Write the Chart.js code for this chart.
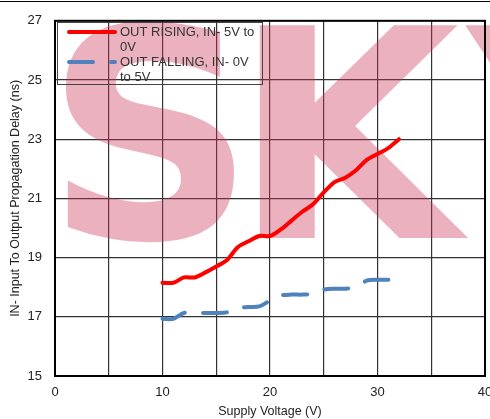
<!DOCTYPE html>
<html>
<head>
<meta charset="utf-8">
<script src="https://cdn.jsdelivr.net/npm/chart.js@4.4.0/dist/chart.umd.min.js"></script>
<style>
  html, body { margin: 0; padding: 0; background: #fff; overflow: hidden; }
  #wrap { width: 490px; height: 419px; position: relative; }
</style>
</head>
<body>
<div id="wrap"><canvas id="delayChart"></canvas></div>
<script>
// Supply voltage (V)
const voltages = [10, 11, 12, 13, 14, 15, 16, 17, 18, 19, 20, 21, 22, 23, 24, 25, 26, 27, 28, 29, 30, 31, 32];
// OUT RISING, IN- 5V to 0V (ns)
const risingDelay = [18.15, 18.15, 18.33, 18.33, 18.5, 18.7, 18.92, 19.35, 19.55, 19.73, 19.73, 19.95, 20.25, 20.55, 20.8, 21.2, 21.55, 21.7, 21.95, 22.3, 22.5, 22.7, 23.0];
// OUT FALLING, IN- 0V to 5V (ns)
const fallingDelay = [16.93, 16.93, 17.13, 17.13, 17.13, 17.13, 17.15, 17.3, 17.33, 17.35, 17.55, 17.72, 17.75, 17.75, 17.78, 17.92, 17.95, 17.95, 18.0, 18.22, 18.25, 18.25, 18.25];

const seriesLabels = [['OUT RISING, IN- 5V to', '0V'], ['OUT FALLING, IN- 0V', 'to 5V']];
const xTickLabels = [0, 10, 20, 30, 40];
const yTickLabels = [15, 17, 19, 21, 23, 25, 27];

const FONT = '"Liberation Sans", Arial, sans-serif';

const watermarkPlugin = {
    id: 'watermark',
    beforeDatasetsDraw(chart) {
        const ctx = chart.ctx;
        ctx.save();
        ctx.fillStyle = 'rgba(205, 50, 85, 0.38)';
        ctx.font = 'bold 292px "DejaVu Sans", sans-serif';
        ctx.textBaseline = 'alphabetic';
        ctx.fillText('S', 45, 238);
        ctx.fillText('K', 233, 238);
        ctx.fillText('Y', 468, 238);
        ctx.restore();
    }
};

const frameLegendPlugin = {
    id: 'frameLegend',
    afterDraw(chart) {
        const ctx = chart.ctx;
        const a = chart.chartArea;
        ctx.save();
        // page rule at top
        ctx.strokeStyle = '#000';
        ctx.lineWidth = 1;
        ctx.beginPath();
        ctx.moveTo(0, 1.5);
        ctx.lineTo(chart.width, 1.5);
        ctx.stroke();

        // plot border
        ctx.lineWidth = 2;
        ctx.strokeRect(a.left, a.top, a.right - a.left, a.bottom - a.top);

        // legend box
        const bx = 57.5, by = 22.5, bw = 205, bh = 62;
        ctx.lineWidth = 1;
        ctx.strokeStyle = '#444';
        ctx.strokeRect(bx, by, bw, bh);

        ctx.font = '13px ' + FONT;
        ctx.fillStyle = '#333';
        ctx.textBaseline = 'middle';
        chart.data.datasets.forEach((ds, i) => {
            const y0 = 32 + i * 30;
            ctx.save();
            ctx.strokeStyle = ds.borderColor;
            ctx.lineWidth = ds.borderWidth;
            ctx.lineCap = 'round';
            ctx.setLineDash(ds.borderDash || []);
            ctx.beginPath();
            ctx.moveTo(69, y0);
            ctx.lineTo(115, y0);
            ctx.stroke();
            ctx.restore();
            seriesLabels[i].forEach((t, j) => {
                ctx.fillText(t, 120, y0 + j * 15);
            });
        });
        ctx.restore();
    }
};

new Chart(document.getElementById('delayChart'), {
    type: 'line',
    data: {
        datasets: [
            {
                label: seriesLabels[0].join(' '),
                data: voltages.map((v, i) => ({ x: v, y: risingDelay[i] })),
                borderColor: '#ff0000',
                borderWidth: 4,
                borderCapStyle: 'round',
                borderJoinStyle: 'round',
                pointRadius: 0,
                tension: 0.3
            },
            {
                label: seriesLabels[1].join(' '),
                data: voltages.map((v, i) => ({ x: v, y: fallingDelay[i] })),
                borderColor: '#4f81bd',
                borderWidth: 4,
                borderDash: [24, 18],
                borderCapStyle: 'round',
                borderJoinStyle: 'round',
                pointRadius: 0,
                tension: 0.3
            }
        ]
    },
    options: {
        responsive: true,
        maintainAspectRatio: false,
        animation: false,
        layout: { padding: { top: 17, right: 5, bottom: 0, left: 0 } },
        plugins: {
            legend: { display: false },
            tooltip: { enabled: false }
        },
        scales: {
            x: {
                type: 'linear',
                min: 0,
                max: 40,
                ticks: {
                    stepSize: 5,
                    color: '#222',
                    font: { family: FONT, size: 13 },
                    padding: 9,
                    callback: v => xTickLabels.includes(v) ? String(v) : ''
                },
                grid: { color: '#333', lineWidth: 1.2, drawTicks: false },
                border: { display: false },
                title: {
                    display: true,
                    text: 'Supply Voltage (V)',
                    color: '#222',
                    font: { family: FONT, size: 12.5 },
                    padding: { top: 0, bottom: 0 }
                },
                afterFit: s => { s.paddingLeft = 0; s.paddingRight = 0; s.height = 43; }
            },
            y: {
                min: 15,
                max: 27,
                ticks: {
                    stepSize: 2,
                    color: '#222',
                    font: { family: FONT, size: 13 },
                    padding: 13,
                    callback: v => yTickLabels.includes(v) ? String(v) : ''
                },
                grid: { color: '#333', lineWidth: 1.2, drawTicks: false },
                border: { display: false },
                title: {
                    display: true,
                    text: 'IN- Input To Output Propagation Delay (ns)',
                    color: '#222',
                    font: { family: FONT, size: 12.5 },
                    padding: { top: 8, bottom: 0 }
                },
                afterFit: s => { s.width = 55; }
            }
        }
    },
    plugins: [watermarkPlugin, frameLegendPlugin]
});
</script>
</body>
</html>
